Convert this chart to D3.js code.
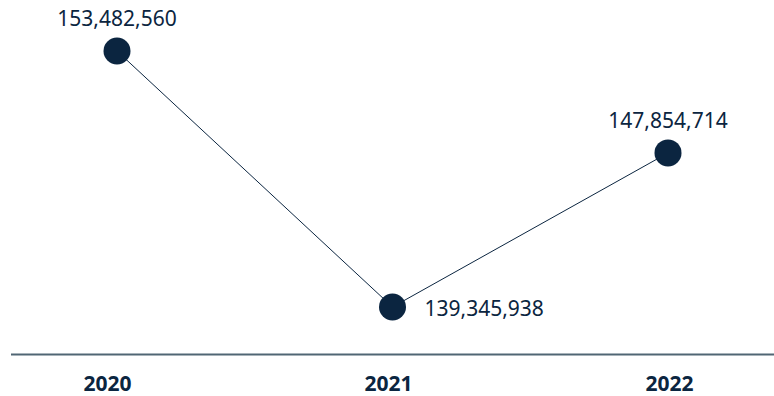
<!DOCTYPE html>
<html>
<head>
<meta charset="utf-8">
<script src="https://cdn.jsdelivr.net/npm/d3@7/dist/d3.min.js"></script>
<style>
  html, body { margin: 0; padding: 0; background: #fff; }
  svg { display: block; font-family: "Noto Sans", "Open Sans", sans-serif; }
</style>
</head>
<body>
<svg id="chart" width="774" height="396"></svg>
<script>
// Yearly totals
const years = ["2020", "2021", "2022"];
const totals = [153482560, 139345938, 147854714];
const labelSide = ["top", "right", "top"];

const navy = "#0b2540";
const svg = d3.select("#chart");

// Category scale for the axis labels, and one for the marks
const xAxisScale = d3.scalePoint().domain(years).range([107, 669]);
const x = d3.scalePoint().domain(years).range([117, 668]);
const y = d3.scaleLinear().domain([139345938, 153482560]).range([307, 51]);

const data = years.map((yr, i) => ({ year: yr, value: totals[i], side: labelSide[i] }));

// Baseline axis
const axis = d3.axisBottom(xAxisScale).tickSize(0).tickPadding(0);
const axisG = svg.append("g").attr("transform", "translate(0,354.5)").call(axis);
axisG.select(".domain").remove();
axisG.append("line")
  .attr("x1", 11).attr("x2", 774)
  .attr("stroke", "#506674").attr("stroke-width", 2);
axisG.selectAll(".tick text")
  .attr("dy", null).attr("y", 36)
  .attr("fill", navy)
  .style("font-family", "'Noto Sans', sans-serif")
  .style("font-size", "21px")
  .style("font-weight", "bold");

// Connecting line
const line = d3.line().x(d => x(d.year)).y(d => y(d.value));
svg.append("path")
  .datum(data)
  .attr("d", line)
  .attr("fill", "none")
  .attr("stroke", navy)
  .attr("stroke-width", 1);

// Points
svg.selectAll("circle.pt")
  .data(data)
  .join("circle")
  .attr("class", "pt")
  .attr("cx", d => x(d.year))
  .attr("cy", d => y(d.value))
  .attr("r", 13.5)
  .attr("fill", navy);

// Value labels
const fmt = d3.format(",");
svg.selectAll("text.val")
  .data(data)
  .join("text")
  .attr("class", "val")
  .attr("x", d => d.side === "right" ? x(d.year) + 32 : x(d.year))
  .attr("y", d => d.side === "right" ? y(d.value) + 9 : y(d.value) - 25)
  .attr("text-anchor", d => d.side === "right" ? "start" : "middle")
  .attr("fill", navy)
  .style("font-size", "21px")
  .text(d => fmt(d.value));
</script>
</body>
</html>
